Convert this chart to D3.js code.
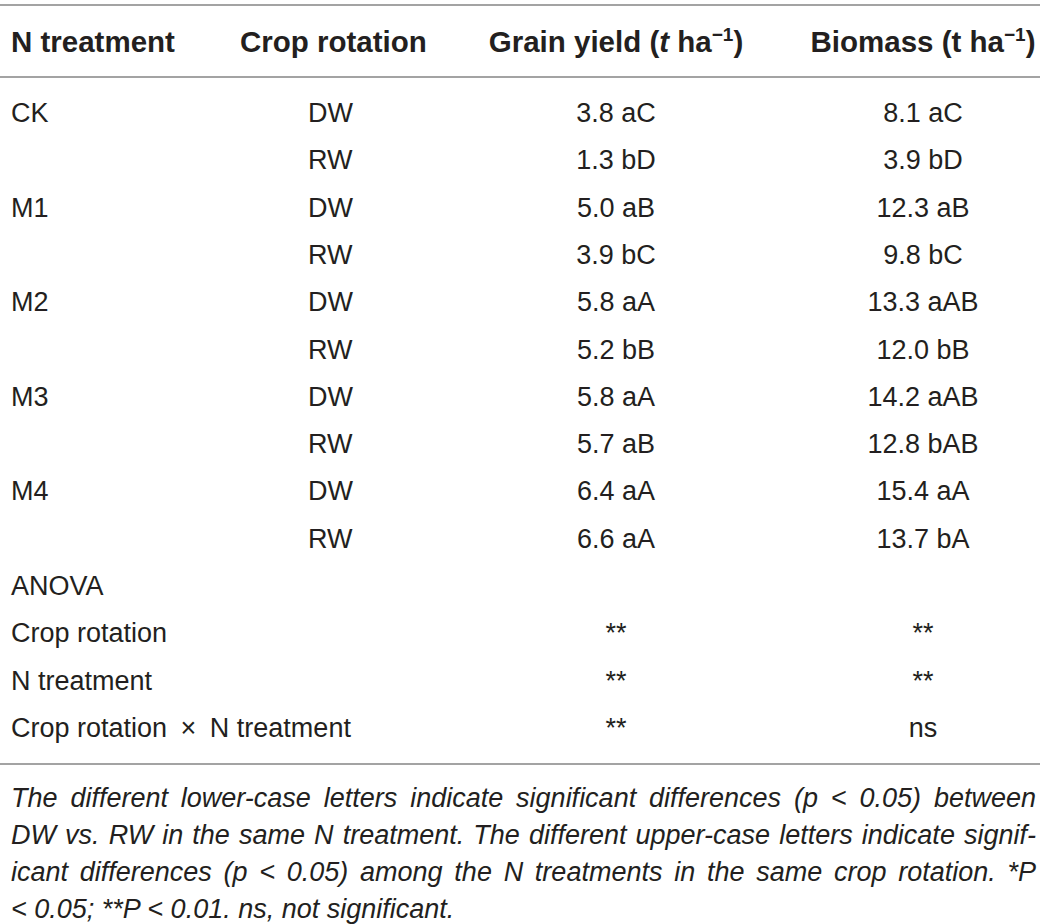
<!DOCTYPE html>
<html>
<head>
<meta charset="utf-8">
<script src="https://cdn.jsdelivr.net/npm/d3@7"></script>
<style>
  body { margin: 0; background: #fff; }
  svg text { font-family: "Liberation Sans", Arial, Helvetica, sans-serif; fill: #231f20; }
</style>
</head>
<body>
<div id="TableContainer"></div>
<script>
// table values
const nTreatments = ["CK", "M1", "M2", "M3", "M4"];
const rotations = ["DW", "RW"];
const grainYield = [3.8, 1.3, 5.0, 3.9, 5.8, 5.2, 5.8, 5.7, 6.4, 6.6];
const grainLetters = ["aC", "bD", "aB", "bC", "aA", "bB", "aA", "aB", "aA", "aA"];
const biomass = [8.1, 3.9, 12.3, 9.8, 13.3, 12.0, 14.2, 12.8, 15.4, 13.7];
const biomassLetters = ["aC", "bD", "aB", "bC", "aAB", "bB", "aAB", "bAB", "aA", "bA"];
const anovaTerms = ["Crop rotation", "N treatment", "Crop rotation\u2002\u00d7\u2002N treatment"];
const anovaGrain = ["**", "**", "**"];
const anovaBiomass = ["**", "**", "ns"];
const footnoteLines = [
  "The different lower-case letters indicate significant differences (p < 0.05) between",
  "DW vs. RW in the same N treatment. The different upper-case letters indicate signif-",
  "icant differences (p < 0.05) among the N treatments in the same crop rotation. *P",
  "< 0.05; **P < 0.01. ns, not significant."
];

document.addEventListener('DOMContentLoaded', function () {
  const width = 1044;
  const height = 924;

  const svg = d3.select('#TableContainer')
    .append('svg')
    .attr('width', width)
    .attr('height', height);

  // build rows
  const rows = [];
  nTreatments.forEach((n, i) => {
    rotations.forEach((r, j) => {
      const k = i * rotations.length + j;
      rows.push({
        id: 'd' + k,
        treatment: j === 0 ? n : '',
        rotation: r,
        grain: grainYield[k].toFixed(1) + ' ' + grainLetters[k],
        bio: biomass[k].toFixed(1) + ' ' + biomassLetters[k]
      });
    });
  });
  rows.push({ id: 'anova', treatment: 'ANOVA', rotation: '', grain: '', bio: '' });
  anovaTerms.forEach((t, i) => {
    rows.push({ id: 'a' + i, treatment: t, rotation: '', grain: anovaGrain[i], bio: anovaBiomass[i] });
  });

  const y = d3.scalePoint()
    .domain(rows.map(d => d.id))
    .range([122, 737]);

  const col = { treatment: 11, rotationHead: 240, rotation: 308, grain: 616, bio: 923 };

  // rules
  const rules = [5, 77, 764];
  svg.selectAll('line.rule')
    .data(rules)
    .enter()
    .append('line')
    .attr('class', 'rule')
    .attr('x1', 0)
    .attr('x2', 1040)
    .attr('y1', d => d)
    .attr('y2', d => d)
    .attr('stroke', '#a3a3a3')
    .attr('stroke-width', 2);

  // header
  const head = svg.append('g')
    .attr('font-size', 29.5)
    .attr('font-weight', 'bold');
  const hy = 52;
  head.append('text').attr('x', col.treatment).attr('y', hy).text('N treatment');
  head.append('text').attr('x', col.rotationHead).attr('y', hy).text('Crop rotation');

  const g1 = head.append('text').attr('x', col.grain).attr('y', hy).attr('text-anchor', 'middle');
  g1.append('tspan').text('Grain yield (');
  g1.append('tspan').attr('font-style', 'italic').text('t');
  g1.append('tspan').text(' ha');
  g1.append('tspan').attr('font-size', 19).attr('dy', -11).text('\u22121');
  g1.append('tspan').attr('dy', 11).text(')');

  const g2 = head.append('text').attr('x', col.bio).attr('y', hy).attr('text-anchor', 'middle');
  g2.append('tspan').text('Biomass (t ha');
  g2.append('tspan').attr('font-size', 19).attr('dy', -11).text('\u22121');
  g2.append('tspan').attr('dy', 11).text(')');

  // body
  const body = svg.append('g').attr('font-size', 27);
  const rowG = body.selectAll('g.row')
    .data(rows)
    .enter()
    .append('g')
    .attr('class', 'row')
    .attr('transform', d => `translate(0, ${y(d.id)})`);

  rowG.append('text')
    .attr('x', col.treatment)
    .text(d => d.treatment);

  rowG.append('text')
    .attr('x', col.rotation)
    .text(d => d.rotation);

  rowG.append('text')
    .attr('x', col.grain)
    .attr('text-anchor', 'middle')
    .text(d => d.grain);

  rowG.append('text')
    .attr('x', col.bio)
    .attr('text-anchor', 'middle')
    .text(d => d.bio);

  // footnote, justified except last line
  const noteY = d3.scalePoint()
    .domain(d3.range(footnoteLines.length))
    .range([807, 918]);
  const left = 11, right = 1036;
  svg.append('g')
    .attr('font-size', 27)
    .attr('font-style', 'italic')
    .selectAll('text')
    .data(footnoteLines)
    .enter()
    .append('text')
    .attr('x', left)
    .attr('y', (d, i) => noteY(i))
    .text(d => d)
    .each(function (d, i) {
      if (i === footnoteLines.length - 1) return;
      const natural = this.getComputedTextLength();
      const target = right - left;
      const spaces = (d.match(/ /g) || []).length;
      if (natural < target) {
        d3.select(this).attr('word-spacing', (target - natural) / spaces);
      } else {
        d3.select(this).attr('textLength', target).attr('lengthAdjust', 'spacingAndGlyphs');
      }
    });
});
</script>
</body>
</html>
